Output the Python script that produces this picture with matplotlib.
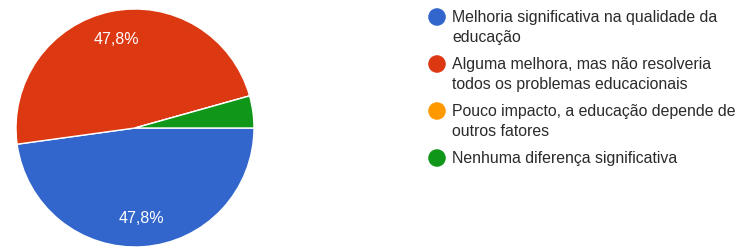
import matplotlib.pyplot as plt

# dados do gráfico
categorias = [
    "Melhoria significativa na qualidade da\neducação",
    "Alguma melhora, mas não resolveria\ntodos os problemas educacionais",
    "Pouco impacto, a educação depende de\noutros fatores",
    "Nenhuma diferença significativa",
]
respostas = [11, 11, 0, 1]
cores = ["#3366cc", "#dc3912", "#ff9900", "#109618"]

plt.rcParams['font.family'] = ['Liberation Sans', 'DejaVu Sans']

W, H = 740, 247
fig = plt.figure(figsize=(W / 100, H / 100), dpi=100)

# pizza: centro (135,128) px, raio 119 px
cx, cy, r = 135, 128, 119
ax = fig.add_axes([(cx - r) / W, (H - cy - r) / H, 2 * r / W, 2 * r / H])


def rotulo(p):
    return f"{p:.1f}%".replace(".", ",") if p >= 5 else ""


ax.pie(respostas, colors=cores, startangle=0, counterclock=False,
       autopct=rotulo, pctdistance=0.76,
       wedgeprops=dict(edgecolor="white", linewidth=1),
       textprops=dict(color="white", fontsize=11.5))
ax.set_xlim(-1, 1)
ax.set_ylim(-1, 1)
ax.set_aspect("equal")
ax.axis("off")

# legenda manual
lg = fig.add_axes([0, 0, 1, 1])
lg.set_xlim(0, W)
lg.set_ylim(H, 0)
lg.axis("off")
y = 17
for cat, cor in zip(categorias, cores):
    lg.scatter([437], [y], s=160, color=cor, edgecolor="none")
    lg.text(452, y - 7, cat, fontsize=11.4, color="#2b2b2b", va="top",
            linespacing=1.45)
    y += 23.5 * (cat.count("\n") + 1)

fig.savefig("out.png", dpi=100)
